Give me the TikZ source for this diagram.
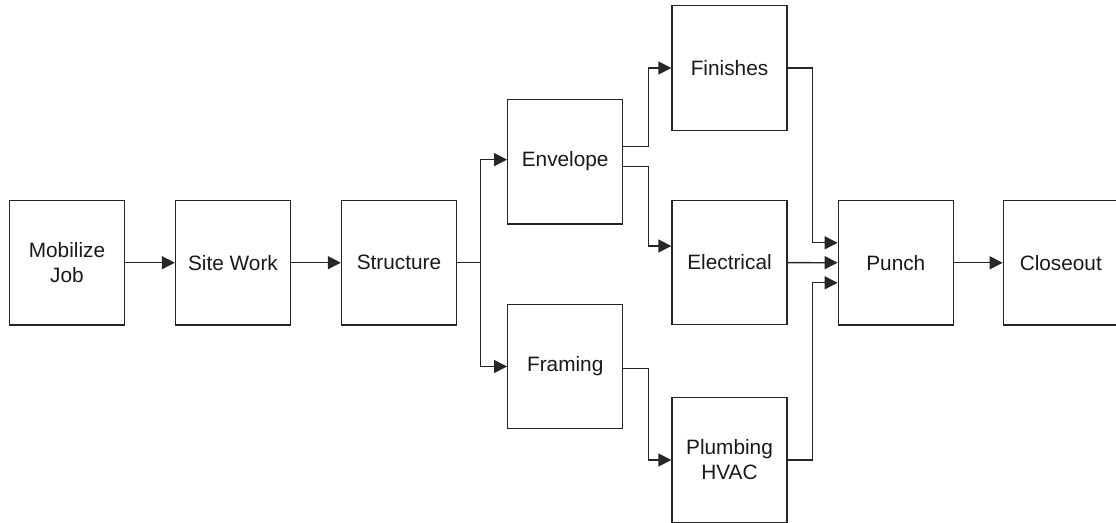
\documentclass[tikz,border=0pt]{standalone}
\usepackage{fontspec}
\setmainfont{Liberation Sans}
\usetikzlibrary{arrows.meta,calc}
\begin{document}
\begin{tikzpicture}[x=1pt,y=-1pt,
 box/.style={draw=black!85, line width=1.3pt, minimum width=115pt, minimum height=124.5pt, inner sep=0pt, align=center, font=\fontsize{20.8}{25}\selectfont, text=black!90},
 link/.style={draw=black!85, line width=1.3pt, -{Triangle[length=13pt,width=13pt]}}]
\useasboundingbox (0,0) rectangle (1116,522);
\node[box] (mob) at (67,262.7) {Mobilize\\Job};
\node[box] (site) at (233,262.7) {Site Work};
\node[box] (struct) at (399,262.7) {Structure};
\node[box] (env) at (565.2,161.6) {Envelope};
\node[box] (fra) at (565.2,366.5) {Framing};
\node[box] (fin) at (729.5,68) {Finishes};
\node[box] (elec) at (729.5,262.5) {Electrical};
\node[box] (plumb) at (729.5,460) {Plumbing\\HVAC};
\node[box] (punch) at (895.8,262.8) {Punch};
\node[box] (close) at (1060.8,262.8) {Closeout};

\draw[link] (mob) -- (site);
\draw[link] (site) -- (struct);
\draw[link] (struct.east) -- (480.5,262.7) |- ($(env.west)+(0,-2)$);
\draw[link] (struct.east) -- (480.5,262.7) |- (fra.west);
\draw[link] ($(env.east)+(0,-15)$) -- ++(25,0) |- (fin.west);
\draw[link] ($(env.east)+(0,5)$) -- ++(25,0) |- ($(elec.west)+(0,-16.5)$);
\draw[link] ($(fra.east)+(0,2)$) -- ++(25,0) |- (plumb.west);
\draw[link] (fin.east) -- ++(25,0) |- ($(punch.west)+(0,-20)$);
\draw[link] (elec) -- (punch);
\draw[link] (plumb.east) -- ++(25,0) |- ($(punch.west)+(0,20)$);
\draw[link] (punch) -- (close);
\end{tikzpicture}
\end{document}
